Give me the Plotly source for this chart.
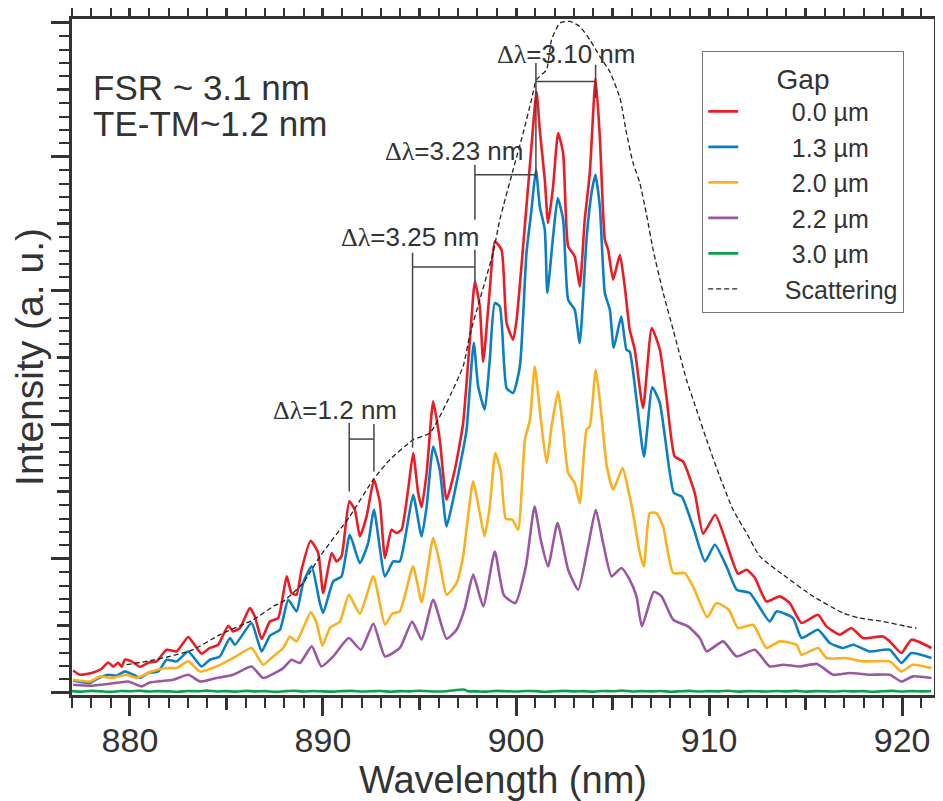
import plotly.graph_objects as go

# ---------------- data ----------------
series_names = ["0.0 µm", "1.3 µm", "2.0 µm", "2.2 µm", "3.0 µm", "Scattering"]
series_colors = ["#ED1C24", "#0A7FC4", "#FBB01F", "#9A58A0", "#0BA14B", "#222222"]

wl_red = [877.06, 877.41, 878.10, 878.53, 878.88, 879.14, 879.39, 879.57, 879.74, 880.09,
          880.52, 880.95, 881.38, 881.90, 882.42, 883.02, 883.28, 883.71, 884.14, 884.57,
          885.09, 885.35, 885.70, 886.21, 886.47, 886.82, 887.25, 887.68, 888.12, 888.37,
          888.63, 888.89, 889.36, 889.75, 890.01, 890.45, 890.70, 890.96, 891.36, 891.65,
          891.91, 892.26, 892.64, 892.95, 893.21, 893.55, 893.81, 894.07, 894.41, 894.67,
          894.93, 895.11, 895.37, 895.71, 896.05, 896.40, 896.83, 897.26, 897.61, 897.87,
          898.12, 898.30, 898.64, 898.90, 899.25, 899.51, 899.85, 900.03, 900.54, 900.80,
          901.06, 901.23, 901.49, 901.66, 901.92, 902.18, 902.44, 902.70, 903.04, 903.30,
          903.56, 903.82, 904.12, 904.34, 904.60, 904.77, 905.03, 905.38, 905.63, 905.89,
          906.15, 906.58, 907.03, 907.45, 907.79, 908.22, 908.65, 909.26, 909.69, 910.32,
          910.90, 911.50, 911.94, 912.37, 912.97, 913.66, 914.18, 914.79, 915.64, 916.08,
          916.77, 917.37, 917.97, 919.01, 919.36, 919.96, 920.48, 921.52]
int_red = [0.166, 0.134, 0.151, 0.179, 0.226, 0.194, 0.224, 0.194, 0.246, 0.234,
           0.194, 0.224, 0.234, 0.321, 0.308, 0.416, 0.371, 0.291, 0.334, 0.358,
           0.500, 0.457, 0.483, 0.632, 0.569, 0.401, 0.532, 0.557, 0.868, 0.744,
           0.731, 0.918, 1.134, 1.045, 0.744, 1.043, 0.980, 1.017, 1.428, 1.366,
           1.167, 1.316, 1.590, 1.416, 1.005, 1.216, 1.192, 1.216, 1.515, 1.789,
           1.490, 1.384, 1.640, 2.174, 1.888, 1.440, 1.664, 2.013, 2.634, 3.069,
           2.883, 2.470, 3.007, 3.368, 3.306, 2.759, 2.634, 2.784, 3.629, 4.077,
           4.487, 4.201, 3.828, 3.505, 3.779, 4.177, 4.028, 3.331, 3.256, 3.032,
           3.530, 3.878, 4.587, 4.152, 3.381, 3.306, 3.082, 3.269, 3.032, 2.709,
           2.560, 2.125, 2.722, 2.560, 2.211, 1.763, 1.726, 1.490, 1.187, 1.328,
           1.117, 0.888, 0.918, 0.858, 0.681, 0.719, 0.669, 0.520, 0.582, 0.495,
           0.433, 0.483, 0.408, 0.420, 0.383, 0.296, 0.396, 0.334]

wl_blue = [877.06, 877.93, 878.28, 878.88, 879.31, 879.74, 880.17, 880.52, 880.95, 881.47,
           881.90, 882.42, 883.02, 883.71, 884.14, 884.66, 885.18, 885.44, 886.30, 886.82,
           887.25, 887.77, 888.20, 888.63, 888.97, 889.41, 889.84, 890.01, 890.53, 890.96,
           891.39, 891.91, 892.34, 892.64, 893.21, 893.64, 893.98, 894.33, 894.67, 895.11,
           895.37, 895.71, 896.05, 896.40, 896.74, 897.26, 897.44, 897.81, 898.04, 898.38,
           898.64, 898.90, 899.16, 899.51, 899.85, 900.20, 900.54, 900.80, 901.03, 901.23,
           901.49, 901.62, 901.92, 902.16, 902.44, 902.70, 903.04, 903.30, 903.65, 903.91,
           904.11, 904.34, 904.60, 904.86, 905.06, 905.45, 905.72, 905.89, 906.24, 906.63,
           907.06, 907.45, 907.71, 908.18, 908.58, 909.18, 909.79, 910.30, 910.90, 911.43,
           912.11, 913.14, 913.49, 914.35, 914.79, 915.64, 916.25, 916.94, 917.46, 918.32,
           919.36, 919.96, 920.48, 921.52]
int_blue = [0.092, 0.072, 0.102, 0.134, 0.127, 0.159, 0.134, 0.110, 0.147, 0.159,
            0.246, 0.234, 0.308, 0.196, 0.246, 0.271, 0.408, 0.358, 0.520, 0.308,
            0.425, 0.470, 0.694, 0.607, 0.819, 0.943, 0.669, 0.595, 0.831, 0.868,
            1.179, 0.968, 1.117, 1.366, 0.868, 0.980, 0.980, 1.216, 1.478, 1.166,
            1.390, 1.838, 1.664, 1.241, 1.440, 1.813, 1.963, 2.612, 2.286, 2.112,
            2.485, 2.908, 2.883, 2.274, 2.237, 2.435, 3.281, 3.604, 3.903, 3.629,
            3.455, 2.983, 3.405, 3.692, 3.530, 2.933, 2.858, 2.610, 3.381, 3.729,
            3.866, 3.629, 2.983, 2.858, 2.575, 2.808, 2.560, 2.545, 2.187, 1.763,
            2.280, 2.162, 1.913, 1.490, 1.465, 1.235, 0.980, 1.104, 0.943, 0.769,
            0.744, 0.532, 0.607, 0.557, 0.408, 0.470, 0.371, 0.334, 0.358, 0.308,
            0.321, 0.222, 0.296, 0.259]

wl_yellow = [877.06, 877.93, 878.45, 879.05, 879.83, 880.35, 881.12, 881.90, 882.42, 883.02,
             883.63, 884.49, 885.35, 886.30, 886.90, 887.42, 887.94, 888.29, 888.63, 889.37,
             889.67, 889.97, 890.36, 890.88, 891.34, 891.91, 892.61, 893.21, 893.59, 893.98,
             894.67, 895.11, 895.71, 896.05, 896.40, 896.92, 897.26, 897.78, 898.12, 898.37,
             898.64, 898.93, 899.21, 899.47, 899.81, 900.11, 900.46, 900.72, 900.97, 901.23,
             901.58, 901.84, 902.18, 902.44, 902.70, 903.04, 903.30, 903.65, 903.82, 904.13,
             904.43, 904.69, 905.03, 905.52, 905.81, 906.06, 906.41, 906.62, 906.93, 907.28,
             907.62, 908.14, 908.74, 909.17, 909.91, 910.38, 911.02, 911.50, 912.28, 912.97,
             913.66, 914.53, 914.79, 915.64, 916.08, 917.11, 917.97, 919.36, 919.96, 920.56,
             921.52]
int_yellow = [0.097, 0.084, 0.122, 0.110, 0.134, 0.110, 0.159, 0.184, 0.184, 0.234,
              0.159, 0.196, 0.259, 0.334, 0.209, 0.271, 0.334, 0.420, 0.383, 0.601,
              0.520, 0.351, 0.483, 0.532, 0.731, 0.590, 0.868, 0.507, 0.590, 0.607,
              0.943, 0.675, 1.154, 0.968, 0.731, 0.819, 1.017, 1.577, 1.341, 1.166,
              1.390, 1.789, 1.652, 1.299, 1.291, 1.216, 1.888, 2.037, 2.435, 2.112,
              1.714, 1.987, 2.249, 1.963, 1.640, 1.565, 1.416, 1.963, 1.987, 2.410,
              2.062, 1.701, 1.515, 1.677, 1.515, 1.341, 1.043, 0.943, 1.341, 1.341,
              1.241, 0.893, 0.893, 0.793, 0.563, 0.669, 0.619, 0.483, 0.507, 0.334,
              0.383, 0.358, 0.284, 0.334, 0.259, 0.259, 0.234, 0.234, 0.159, 0.209,
              0.184]

wl_purple = [877.06, 877.93, 878.96, 879.91, 880.61, 881.04, 882.24, 883.02, 883.63, 884.49,
             885.35, 886.30, 886.90, 887.94, 888.37, 888.80, 889.42, 889.92, 890.53, 891.34,
             891.96, 892.61, 893.21, 893.98, 894.62, 895.11, 895.71, 896.40, 896.92, 897.35,
             897.78, 898.30, 898.90, 899.37, 899.96, 900.51, 900.96, 901.28, 901.66, 902.15,
             902.70, 903.22, 903.73, 904.13, 904.51, 904.95, 905.46, 905.89, 906.24, 906.52,
             907.14, 907.54, 908.14, 908.91, 909.52, 909.87, 910.73, 911.42, 912.37, 913.14,
             913.83, 914.70, 915.59, 916.42, 917.29, 918.32, 919.36, 919.96, 920.56, 921.52]
int_purple = [0.060, 0.052, 0.067, 0.084, 0.047, 0.077, 0.097, 0.134, 0.084, 0.110,
              0.134, 0.196, 0.110, 0.184, 0.246, 0.222, 0.346, 0.196, 0.271, 0.408,
              0.321, 0.515, 0.271, 0.334, 0.532, 0.396, 0.694, 0.403, 0.470, 0.632,
              0.881, 0.644, 1.054, 0.728, 0.669, 0.943, 1.390, 1.142, 0.943, 1.266,
              0.918, 0.769, 1.092, 1.366, 1.117, 0.868, 0.931, 0.843, 0.719, 0.495,
              0.754, 0.719, 0.545, 0.495, 0.408, 0.308, 0.383, 0.271, 0.321, 0.196,
              0.209, 0.196, 0.215, 0.134, 0.147, 0.134, 0.134, 0.084, 0.122, 0.110]

wl_green = [877.0, 877.5, 878.0, 878.5, 879.0, 879.5, 880.0, 880.5, 881.0, 881.5,
            882.0, 882.5, 883.0, 883.5, 884.0, 884.5, 885.0, 885.5, 886.0, 886.5,
            887.0, 887.5, 888.0, 888.5, 889.0, 889.5, 890.0, 890.5, 891.0, 891.5,
            892.0, 892.5, 893.0, 893.5, 894.0, 894.5, 895.0, 895.5, 896.0, 896.5,
            897.3, 897.5, 898.0, 898.5, 899.0, 899.5, 900.0, 900.5, 901.0, 901.5,
            902.0, 902.5, 903.0, 903.5, 904.0, 904.5, 905.0, 905.5, 906.0, 906.5,
            907.0, 907.5, 908.0, 908.5, 909.0, 909.5, 910.0, 910.5, 911.0, 911.5,
            912.0, 912.5, 913.0, 913.5, 914.0, 914.5, 915.0, 915.5, 916.0, 916.5,
            917.0, 917.5, 918.0, 918.5, 919.0, 919.5, 920.0, 920.5, 921.0, 921.5]
int_green = [0.012, 0.008, 0.014, 0.010, 0.006, 0.013, 0.011, 0.015, 0.009, 0.012,
             0.010, 0.007, 0.013, 0.011, 0.016, 0.009, 0.012, 0.008, 0.014, 0.010,
             0.012, 0.006, 0.011, 0.015, 0.009, 0.013, 0.010, 0.008, 0.012, 0.014,
             0.009, 0.011, 0.013, 0.007, 0.012, 0.010, 0.015, 0.011, 0.009, 0.013,
             0.024, 0.012, 0.010, 0.008, 0.014, 0.011, 0.009, 0.013, 0.012, 0.007,
             0.011, 0.014, 0.010, 0.012, 0.008, 0.013, 0.011, 0.016, 0.009, 0.012,
             0.010, 0.013, 0.007, 0.011, 0.014, 0.009, 0.012, 0.010, 0.015, 0.008,
             0.012, 0.011, 0.009, 0.013, 0.010, 0.014, 0.008, 0.012, 0.011, 0.009,
             0.013, 0.010, 0.012, 0.007, 0.011, 0.014, 0.009, 0.012, 0.010, 0.011]

wl_scatter = [879.83, 881.04, 882.07, 883.28, 884.66, 886.39, 887.42, 887.94, 888.97, 889.84,
              891.39, 892.60, 893.46, 894.67, 895.54, 896.40, 897.26, 897.61, 898.12, 898.81,
              899.16, 899.85, 900.37, 900.80, 901.06, 901.58, 901.84, 902.27, 902.79, 903.30,
              903.82, 904.34, 904.86, 905.38, 905.72, 906.06, 906.41, 906.76, 907.10, 907.62,
              908.14, 908.83, 909.35, 909.87, 910.55, 911.24, 911.94, 912.63, 913.83, 915.39,
              916.94, 917.80, 919.01, 920.22, 920.74]
int_scatter = [0.209, 0.239, 0.271, 0.321, 0.433, 0.545, 0.644, 0.681, 0.819, 1.017,
               1.316, 1.590, 1.739, 1.888, 1.938, 2.162, 2.435, 2.672, 2.933, 3.281,
               3.530, 3.903, 4.177, 4.425, 4.575, 4.649, 4.873, 4.998, 5.010, 4.972,
               4.873, 4.749, 4.634, 4.440, 4.179, 3.955, 3.806, 3.567, 3.306, 2.985,
               2.709, 2.336, 2.112, 1.888, 1.614, 1.366, 1.192, 1.017, 0.881, 0.719,
               0.595, 0.557, 0.532, 0.495, 0.483]

# Delta-lambda brackets: left/right wavelength, bar height, vertical extents
br_left = [901.03, 897.87, 894.64, 891.36]
br_right = [904.12, 901.03, 897.87, 892.64]
br_bar = [4.562, 3.866, 3.177, 1.893]
br_left_top = [4.699, 3.940, 3.284, 2.013]
br_left_bot = [4.450, 3.530, 1.828, 1.502]
br_right_top = [4.687, 4.450, 3.306, 2.005]
br_right_bot = [4.438, 3.843, 3.060, 1.651]
br_labels = ["3.10 nm", "3.23 nm", "3.25 nm", "1.2 nm"]
br_label_x = [902.57, 896.81, 894.50, 890.60]
br_label_y = [4.77, 4.045, 3.40, 2.108]

note_text = ["FSR ~ 3.1 nm", "TE-TM~1.2 nm"]
note_x = [878.0, 878.0]
note_y = [4.52, 4.246]

x_range = [877.0, 921.65]
y_range = [-0.017, 5.028]

# ---------------- figure ----------------
FONT = "Liberation Sans, Arial, Helvetica, sans-serif"
TXT = "#333333"
AX = "#333333"

xs = [wl_red, wl_blue, wl_yellow, wl_purple, wl_green, wl_scatter]
ys = [int_red, int_blue, int_yellow, int_purple, int_green, int_scatter]

fig = go.Figure()
for i, name in enumerate(series_names):
    if name == "Scattering":
        line = dict(color=series_colors[i], width=1.3, dash="5px,3px", shape="spline", smoothing=0.5)
        label = "\u00a0" * 6 + name
    else:
        line = dict(color=series_colors[i], width=2.6, shape="spline", smoothing=0.5)
        label = "\u00a0" * 7 + name
    fig.add_trace(go.Scatter(x=xs[i], y=ys[i], mode="lines", name=label,
                             line=line, hoverinfo="skip"))

# helper empty trace for the overlay tick axes
fig.add_trace(go.Scatter(x=[], y=[], xaxis="x2", yaxis="y2", showlegend=False))

shapes = []
for i in range(len(br_left)):
    lc = dict(color="#444444", width=1.5)
    shapes.append(dict(type="line", xref="x", yref="y", x0=br_left[i], x1=br_right[i],
                       y0=br_bar[i], y1=br_bar[i], line=lc))
    shapes.append(dict(type="line", xref="x", yref="y", x0=br_left[i], x1=br_left[i],
                       y0=br_left_top[i], y1=br_left_bot[i], line=lc))
    shapes.append(dict(type="line", xref="x", yref="y", x0=br_right[i], x1=br_right[i],
                       y0=br_right_top[i], y1=br_right_bot[i], line=lc))

annotations = []
for i in range(len(br_labels)):
    annotations.append(dict(
        x=br_label_x[i], y=br_label_y[i], xref="x", yref="y", showarrow=False,
        text="<span style='font-family:Liberation Serif, Times New Roman, serif'>Δλ</span>=" + br_labels[i],
        font=dict(size=26, color=TXT, family=FONT), xanchor="center", yanchor="middle"))
for i in range(len(note_text)):
    annotations.append(dict(
        x=note_x[i], y=note_y[i], xref="x", yref="y", showarrow=False, text=note_text[i],
        font=dict(size=35, color=TXT, family=FONT), xanchor="left", yanchor="middle"))

# the page adds an 8 px body margin, so the figure is 8 px smaller than the window
fig.update_layout(
    width=935, height=793, autosize=False,
    margin=dict(l=64, r=9, t=11, b=106, autoexpand=False),
    paper_bgcolor="white", plot_bgcolor="white",
    font=dict(family=FONT, color=TXT),
    shapes=shapes, annotations=annotations,
    xaxis=dict(range=x_range, tickmode="linear", tick0=880, dtick=10, automargin=False,
               ticks="outside", ticklen=18, tickwidth=2.5, tickcolor=AX,
               showline=True, linewidth=3, linecolor=AX, mirror="ticks",
               showgrid=False, zeroline=False, ticklabelstandoff=-5,
               tickfont=dict(size=34, color=TXT, family=FONT),
               title=dict(text="Wavelength (nm)", font=dict(size=38, color=TXT, family=FONT), standoff=0),
               minor=dict(tickmode="linear", tick0=880, dtick=1, ticks="outside", ticklen=10,
                          tickwidth=2, tickcolor=AX, showgrid=False)),
    xaxis2=dict(range=x_range, overlaying="x", anchor="y", side="bottom", automargin=False,
                tickmode="linear", tick0=880, dtick=5, ticks="outside", ticklen=14,
                tickwidth=2.5, tickcolor=AX, showticklabels=False, showline=False,
                mirror="ticks", showgrid=False, zeroline=False),
    yaxis=dict(range=y_range, tickmode="linear", tick0=0, dtick=1, automargin=False,
               ticks="outside", ticklen=18, tickwidth=2.5, tickcolor=AX,
               showline=True, linewidth=3, linecolor=AX, mirror="ticks",
               showgrid=False, zeroline=False, showticklabels=False,
               title=dict(text="Intensity (a. u.)", font=dict(size=39, color=TXT, family=FONT), standoff=0),
               minor=dict(tickmode="linear", tick0=0, dtick=0.1, ticks="outside", ticklen=10,
                          tickwidth=2, tickcolor=AX, showgrid=False)),
    yaxis2=dict(range=y_range, overlaying="y", anchor="x", side="left", automargin=False,
                tickmode="linear", tick0=0, dtick=0.5, ticks="outside", ticklen=14,
                tickwidth=2.5, tickcolor=AX, showticklabels=False, showline=False,
                mirror="ticks", showgrid=False, zeroline=False),
    legend=dict(x=(702 - 72) / 862, y=(695 - 51) / 676, xanchor="left", yanchor="top",
                bgcolor="white", bordercolor="#777777", borderwidth=1.2,
                font=dict(size=25, color=TXT, family=FONT),
                title=dict(text="Gap", side="top center", font=dict(size=28, color=TXT, family=FONT)),
                tracegroupgap=0),
    showlegend=True,
)

fig.write_html("out.html")
